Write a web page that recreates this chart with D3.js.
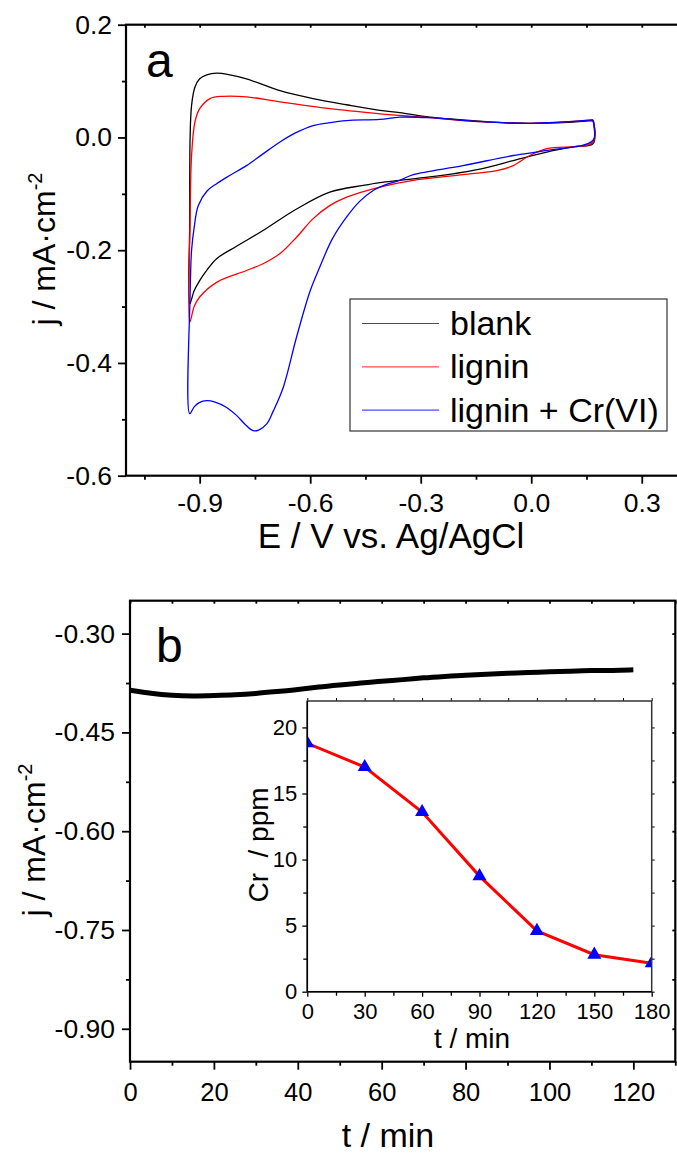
<!DOCTYPE html>
<html>
<head>
<meta charset="utf-8">
<script src="https://cdn.jsdelivr.net/npm/d3@7"></script>
<style>
  body { margin: 0; background: #fff; }
  svg { display: block; }
</style>
</head>
<body>
<div id="chart"></div>
<script>
// ---- panel a : cyclic voltammograms, [E (V), j (mA/cm2)] loops ----
var blankLoop = [
  [0.168, 0.030], [0.10, 0.027], [0.0, 0.025], [-0.07, 0.026], [-0.139, 0.029],
  [-0.275, 0.036], [-0.357, 0.044], [-0.411, 0.048], [-0.501, 0.058], [-0.592, 0.069],
  [-0.682, 0.083], [-0.773, 0.104], [-0.818, 0.111], [-0.854, 0.114], [-0.881, 0.111],
  [-0.900, 0.104], [-0.913, 0.089], [-0.922, 0.057], [-0.926, 0.0], [-0.927, -0.15],
  [-0.927, -0.295], [-0.915, -0.272], [-0.900, -0.254], [-0.880, -0.235], [-0.854, -0.215],
  [-0.800, -0.193], [-0.728, -0.165], [-0.637, -0.127], [-0.547, -0.097], [-0.456, -0.085],
  [-0.411, -0.080], [-0.357, -0.076], [-0.275, -0.070], [-0.139, -0.056], [-0.049, -0.041],
  [0.042, -0.026], [0.12, -0.016], [0.168, -0.011], [0.168, 0.030]
]
var ligninLoop = [
  [0.168, 0.031], [0.0, 0.025], [-0.139, 0.028], [-0.275, 0.035], [-0.357, 0.039],
  [-0.411, 0.042], [-0.547, 0.051], [-0.682, 0.063], [-0.773, 0.072], [-0.836, 0.073],
  [-0.872, 0.069], [-0.900, 0.051], [-0.913, 0.027], [-0.922, -0.032], [-0.926, -0.15],
  [-0.927, -0.328], [-0.915, -0.300], [-0.900, -0.283], [-0.854, -0.257], [-0.773, -0.236],
  [-0.728, -0.224], [-0.682, -0.206], [-0.637, -0.177], [-0.592, -0.144], [-0.547, -0.121],
  [-0.501, -0.106], [-0.411, -0.088], [-0.320, -0.076], [-0.185, -0.066], [-0.094, -0.059],
  [-0.049, -0.050], [-0.004, -0.032], [0.042, -0.020], [0.168, -0.008], [0.168, 0.031]
]
var crLoop = [
  [0.168, 0.031], [0.0, 0.025], [-0.139, 0.028], [-0.275, 0.035], [-0.357, 0.036],
  [-0.411, 0.032], [-0.501, 0.030], [-0.550, 0.026], [-0.592, 0.021], [-0.640, 0.008],
  [-0.682, -0.008], [-0.730, -0.030], [-0.773, -0.050], [-0.820, -0.068], [-0.854, -0.082],
  [-0.880, -0.095], [-0.904, -0.121], [-0.915, -0.160], [-0.922, -0.200], [-0.926, -0.280],
  [-0.927, -0.490], [-0.915, -0.478], [-0.900, -0.470], [-0.881, -0.467], [-0.860, -0.469],
  [-0.827, -0.479], [-0.800, -0.493], [-0.775, -0.510], [-0.755, -0.520], [-0.740, -0.519],
  [-0.718, -0.508], [-0.700, -0.485], [-0.673, -0.443], [-0.637, -0.354], [-0.600, -0.272],
  [-0.574, -0.230], [-0.540, -0.180], [-0.501, -0.141], [-0.465, -0.113], [-0.429, -0.094],
  [-0.400, -0.085], [-0.357, -0.076], [-0.320, -0.066], [-0.185, -0.050], [-0.049, -0.032],
  [0.042, -0.023], [0.168, -0.005], [0.168, 0.031]
]
var seriesNames = ['blank', 'lignin', 'lignin + Cr(VI)']
var seriesColors = ['#000000', '#ff0000', '#0000ff']

var aXTicks = [-0.9, -0.6, -0.3, 0.0, 0.3]
var aXMinor = [-1.05, -0.75, -0.45, -0.15, 0.15]
var aYTicks = [-0.6, -0.4, -0.2, 0.0, 0.2]
var aYMinor = [-0.5, -0.3, -0.1, 0.1]

// ---- panel b : chronoamperometry ----
var timeB = [0, 5, 10, 15, 20, 25, 30, 35, 40, 45, 50, 55, 60, 65, 70, 75, 80, 85, 90, 95, 100, 105, 110, 115, 120]
var currentB = [-0.386, -0.391, -0.394, -0.395, -0.394, -0.393, -0.391, -0.388, -0.385, -0.381,
  -0.378, -0.375, -0.372, -0.370, -0.367, -0.365, -0.363, -0.362, -0.360, -0.359,
  -0.358, -0.357, -0.356, -0.356, -0.355]
var bXTicks = [0, 20, 40, 60, 80, 100, 120]
var bXMinor = [10, 30, 50, 70, 90, 110, 130]
var bYTicks = [-0.90, -0.75, -0.60, -0.45, -0.30]
var bYMinor = [-0.825, -0.675, -0.525, -0.375]

// ---- inset : Cr(VI) concentration ----
var timeInset = [0, 30, 60, 90, 120, 150, 180]
var crPpm = [18.8, 17.0, 13.6, 8.75, 4.6, 2.8, 2.15]
var iXTicks = [0, 30, 60, 90, 120, 150, 180]
var iXMinor = [15, 45, 75, 105, 135, 165]
var iYTicks = [0, 5, 10, 15, 20]
var iYMinor = [2.5, 7.5, 12.5, 17.5]

var font = "'Liberation Sans', Arial, Helvetica, sans-serif"

var svg = d3.select('#chart').append('svg')
    .attr('width', 677)
    .attr('height', 1154)
    .style('font-family', font)

var defs = svg.append('defs')

function axis(gen, pos, vals, len, fmt, pad, fs, sw) {
    gen.tickValues(vals)
        .tickSizeInner(len)
        .tickSizeOuter(0)
        .tickPadding(pad || 3)
        .tickFormat(fmt || '')
    var g = svg.append('g').attr('transform', pos).call(gen)
    g.select('.domain').remove()
    g.selectAll('line').attr('stroke', '#000').attr('stroke-width', sw || 1.8)
    g.selectAll('text')
        .attr('fill', '#000')
        .attr('font-size', fs || 26)
        .attr('font-family', font)
    return g
}

function frame(l, t, r, b, sw, col) {
    svg.append('rect')
        .attr('x', l).attr('y', t)
        .attr('width', r - l).attr('height', b - t)
        .attr('fill', 'none')
        .attr('stroke', col || '#000')
        .attr('stroke-width', sw)
}

function clip(id, l, t, r, b) {
    defs.append('clipPath').attr('id', id)
        .append('rect').attr('x', l).attr('y', t).attr('width', r - l).attr('height', b - t)
}

var f1 = function(d) { return d.toFixed(1) }
var f2 = function(d) { return d.toFixed(2) }
var f0 = function(d) { return String(d) }

// ================= panel a =================
var aL = 126, aT = 24.7, aB = 475.7
var xA = d3.scaleLinear().domain([-1.1, 0.4]).range([aL, 678.6])
var yA = d3.scaleLinear().domain([-0.6, 0.2]).range([aB, aT])
var aR = xA(0.4)

clip('clipA', aL, aT, aR, aB)

var lineA = d3.line()
    .x(function(d) { return xA(d[0]) })
    .y(function(d) { return yA(d[1]) })
    .curve(d3.curveCatmullRom.alpha(0.5))

svg.append('g')
    .attr('clip-path', 'url(#clipA)')
    .selectAll('path')
    .data([blankLoop, ligninLoop, crLoop])
    .enter()
    .append('path')
    .attr('d', lineA)
    .attr('fill', 'none')
    .attr('stroke', function(d, i) { return seriesColors[i] })
    .attr('stroke-width', 1.3)

axis(d3.axisLeft(yA), 'translate(' + aL + ',0)', aYTicks, 8, f1, 6, 26.5)
axis(d3.axisLeft(yA), 'translate(' + aL + ',0)', aYMinor, 4)
axis(d3.axisBottom(xA), 'translate(0,' + aB + ')', aXTicks, 8, f1, 9, 26.5)
axis(d3.axisBottom(xA), 'translate(0,' + aB + ')', aXMinor, 4)
axis(d3.axisBottom(xA), 'translate(0,' + aT + ')', aXTicks.concat(aXMinor), 3)
frame(aL, aT, aR, aB, 2.2)

svg.append('text')
    .attr('x', 146).attr('y', 77)
    .attr('font-size', 48)
    .text('a')

svg.append('text')
    .attr('x', 391).attr('y', 548)
    .attr('text-anchor', 'middle')
    .attr('font-size', 35)
    .text('E / V vs. Ag/AgCl')

function yTitle(x, y) {
    var t = svg.append('text')
        .attr('transform', 'translate(' + x + ',' + y + ') rotate(-90)')
        .attr('text-anchor', 'middle')
        .attr('font-size', 32)
    t.append('tspan').text('j / mA\u00b7cm')
    t.append('tspan').attr('font-size', 20).attr('dy', -13).text('-2')
}
yTitle(55, 249)

// legend
var leg = svg.append('g')
leg.append('rect')
    .attr('x', 350).attr('y', 299)
    .attr('width', 317).attr('height', 132)
    .attr('fill', '#fff')
    .attr('stroke', '#333')
    .attr('stroke-width', 1.2)
seriesNames.forEach(function(name, i) {
    var y = 323.5 + i * 43.3
    leg.append('line')
        .attr('x1', 362).attr('x2', 439)
        .attr('y1', y).attr('y2', y)
        .attr('stroke', seriesColors[i])
        .attr('stroke-opacity', 0.7)
        .attr('stroke-width', 1.2)
    leg.append('text')
        .attr('x', 450).attr('y', y + 11.5)
        .attr('font-size', 34)
        .text(name)
})

// ================= panel b =================
var bL = 130, bT = 600.7, bR = 675.3, bB = 1061.7
var xB = d3.scaleLinear().domain([0, 130]).range([bL, bR])
var yB = d3.scaleLinear().domain([-0.95, -0.25]).range([bB, bT])

svg.append('path')
    .datum(timeB)
    .attr('d', d3.line()
        .x(function(d) { return xB(d) })
        .y(function(d, i) { return yB(currentB[i]) })
        .curve(d3.curveBasis))
    .attr('fill', 'none')
    .attr('stroke', '#000')
    .attr('stroke-width', 5)
    .attr('stroke-linecap', 'butt')

axis(d3.axisLeft(yB), 'translate(' + bL + ',0)', bYTicks, 8, f2, 7, 26.5)
axis(d3.axisLeft(yB), 'translate(' + bL + ',0)', bYMinor, 4)
axis(d3.axisBottom(xB), 'translate(0,' + bB + ')', bXTicks, 8, f0, 13, 25.5)
axis(d3.axisBottom(xB), 'translate(0,' + bB + ')', bXMinor, 4)
axis(d3.axisBottom(xB), 'translate(0,' + bT + ')', bXTicks.concat(bXMinor), 3)
axis(d3.axisLeft(yB), 'translate(' + bR + ',0)', bYTicks.concat(bYMinor), 3)
frame(bL, bT, bR, bB, 2.2)

svg.append('text')
    .attr('x', 156).attr('y', 662)
    .attr('font-size', 48)
    .text('b')

svg.append('text')
    .attr('x', 388).attr('y', 1147)
    .attr('text-anchor', 'middle')
    .attr('font-size', 34)
    .text('t / min')

yTitle(45, 840)

// ================= inset =================
var iL = 307.3, iT = 701, iR = 651.7, iB = 991.7
var xI = d3.scaleLinear().domain([0, 180]).range([iL, iR])
var yI = d3.scaleLinear().domain([0, 22]).range([iB, iT])

clip('clipI', iL, iT, iR, iB)

svg.append('rect')
    .attr('x', iL).attr('y', iT)
    .attr('width', iR - iL).attr('height', iB - iT)
    .attr('fill', '#fff')

var gi = svg.append('g').attr('clip-path', 'url(#clipI)')

gi.append('path')
    .datum(timeInset)
    .attr('d', d3.line()
        .x(function(d) { return xI(d) })
        .y(function(d, i) { return yI(crPpm[i]) }))
    .attr('fill', 'none')
    .attr('stroke', '#ff0000')
    .attr('stroke-width', 3)

gi.selectAll('path.pt')
    .data(timeInset)
    .enter()
    .append('path')
    .attr('class', 'pt')
    .attr('transform', function(d, i) { return 'translate(' + xI(d) + ',' + yI(crPpm[i]) + ')' })
    .attr('d', d3.symbol().type(d3.symbolTriangle).size(85))
    .attr('fill', '#0000ff')

axis(d3.axisLeft(yI), 'translate(' + iL + ',0)', iYTicks, 5, f0, 5, 22, 1.3)
axis(d3.axisLeft(yI), 'translate(' + iL + ',0)', iYMinor, 4, null, 3, 22, 1.3)
axis(d3.axisBottom(xI), 'translate(0,' + iB + ')', iXTicks, 5, f0, 7, 22, 1.3)
axis(d3.axisBottom(xI), 'translate(0,' + iB + ')', iXMinor, 4, null, 3, 22, 1.3)
axis(d3.axisTop(xI), 'translate(0,' + iT + ')', iXTicks.concat(iXMinor), 3, null, 3, 22, 1)
axis(d3.axisRight(yI), 'translate(' + iR + ',0)', iYTicks.concat(iYMinor), 3, null, 3, 22, 1)
frame(iL, iT, iR, iB, 1.5, '#333')
svg.append('line')
    .attr('x1', iL).attr('x2', iL).attr('y1', iT).attr('y2', iB)
    .attr('stroke', '#000').attr('stroke-width', 1.5)
svg.append('line')
    .attr('x1', iL).attr('x2', iR).attr('y1', iB).attr('y2', iB)
    .attr('stroke', '#000').attr('stroke-width', 1.5)

svg.append('text')
    .attr('x', 472).attr('y', 1048)
    .attr('text-anchor', 'middle')
    .attr('font-size', 28)
    .text('t / min')

svg.append('text')
    .attr('transform', 'translate(268,845) rotate(-90)')
    .attr('text-anchor', 'middle')
    .attr('font-size', 28)
    .attr('xml:space', 'preserve')
    .style('white-space', 'pre')
    .text('Cr  / ppm')
</script>
</body>
</html>
